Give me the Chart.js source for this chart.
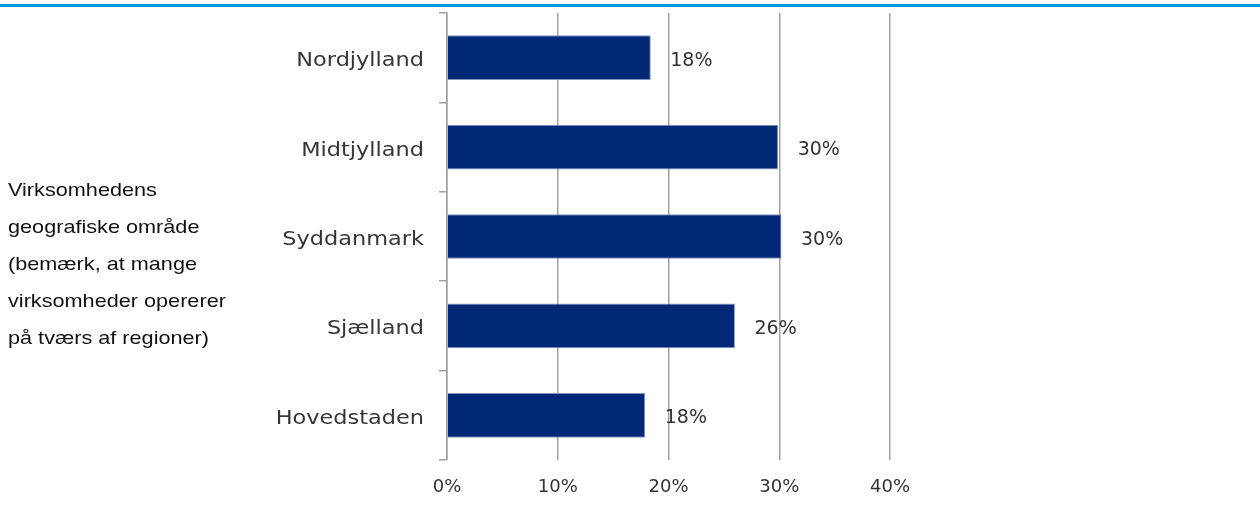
<!DOCTYPE html>
<html>
<head>
<meta charset="utf-8">
<script src="https://cdn.jsdelivr.net/npm/chart.js@4/dist/chart.umd.min.js"></script>
<style>
html,body{margin:0;padding:0;background:#fff;}
#wrap{position:relative;width:1260px;height:528px;}
</style>
</head>
<body>
<div id="wrap"><canvas id="c" width="1260" height="528"></canvas></div>
<script>
const categories = ['Nordjylland', 'Midtjylland', 'Syddanmark', 'Sjælland', 'Hovedstaden'];
const values = [0.184, 0.299, 0.302, 0.26, 0.179];
const valueLabels = ['18%', '30%', '30%', '26%', '18%'];
const tickValues = [0, 0.1, 0.2, 0.3, 0.4];
const sideTitle = ['Virksomhedens', 'geografiske område', '(bemærk, at mange', 'virksomheder opererer', 'på tværs af regioner)'];

const decor = {
  id: 'decor',
  beforeDraw(chart) {
    const ctx = chart.ctx;
    ctx.save();
    ctx.fillStyle = '#0099da';
    ctx.fillRect(0, 4, chart.width, 3);
    ctx.fillStyle = '#111';
    ctx.font = '19px "Liberation Sans", Arial, sans-serif';
    ctx.textAlign = 'left';
    ctx.textBaseline = 'alphabetic';
    sideTitle.forEach((t, i) => {
      ctx.save();
      ctx.translate(8, 195.5 + i * 37.2);
      ctx.scale(1.14, 1);
      ctx.fillText(t, 0, 0);
      ctx.restore();
    });
    ctx.restore();
  },
  afterDatasetsDraw(chart) {
    const ctx = chart.ctx;
    const yScale = chart.scales.y;
    ctx.save();
    // category labels
    ctx.fillStyle = '#363636';
    ctx.font = '19px "DejaVu Sans", sans-serif';
    ctx.textAlign = 'right';
    ctx.textBaseline = 'alphabetic';
    categories.forEach((c, i) => {
      const y = yScale.getPixelForValue(i);
      ctx.save();
      ctx.translate(yScale.right - 23, y + 8.5);
      ctx.scale(1.18, 1);
      ctx.fillText(c, 0, 0);
      ctx.restore();
    });
    // value labels
    ctx.fillStyle = '#333';
    ctx.font = '19px "DejaVu Sans", sans-serif';
    ctx.textAlign = 'left';
    chart.getDatasetMeta(0).data.forEach((bar, i) => {
      ctx.fillText(valueLabels[i], bar.x + 19.5, bar.y + 8);
    });
    ctx.restore();
  }
};

new Chart(document.getElementById('c'), {
  type: 'bar',
  data: {
    labels: categories,
    datasets: [{
      data: values,
      backgroundColor: '#002877',
      borderColor: '#8394bd',
      borderWidth: 1,
      barPercentage: 0.5,
      categoryPercentage: 1.0
    }]
  },
  options: {
    indexAxis: 'y',
    responsive: false,
    animation: false,
    layout: { padding: { left: 0, right: 370, top: 13, bottom: 0 } },
    plugins: { legend: { display: false }, tooltip: { enabled: false } },
    scales: {
      x: {
        min: 0, max: 0.4,
        afterBuildTicks(scale) { scale.ticks = tickValues.map(v => ({ value: v })); },
        afterFit(scale) { scale.height = 68; },
        ticks: {
          padding: 17,
          color: '#333',
          font: { family: '"DejaVu Sans", sans-serif', size: 18 },
          callback: v => Math.round(v * 100) + '%'
        },
        grid: { color: '#a0a0a0', lineWidth: 1.5, drawTicks: false },
        border: { display: false }
      },
      y: {
        afterFit(scale) { scale.width = 447; scale.paddingTop = 0; scale.paddingBottom = 0; },
        ticks: { display: false },
        grid: { offset: true, drawOnChartArea: false, drawTicks: true, tickLength: 8, color: '#a0a0a0', lineWidth: 1.5 },
        border: { display: true, color: '#a0a0a0', width: 1.5 }
      }
    }
  },
  plugins: [decor]
});
</script>
</body>
</html>
